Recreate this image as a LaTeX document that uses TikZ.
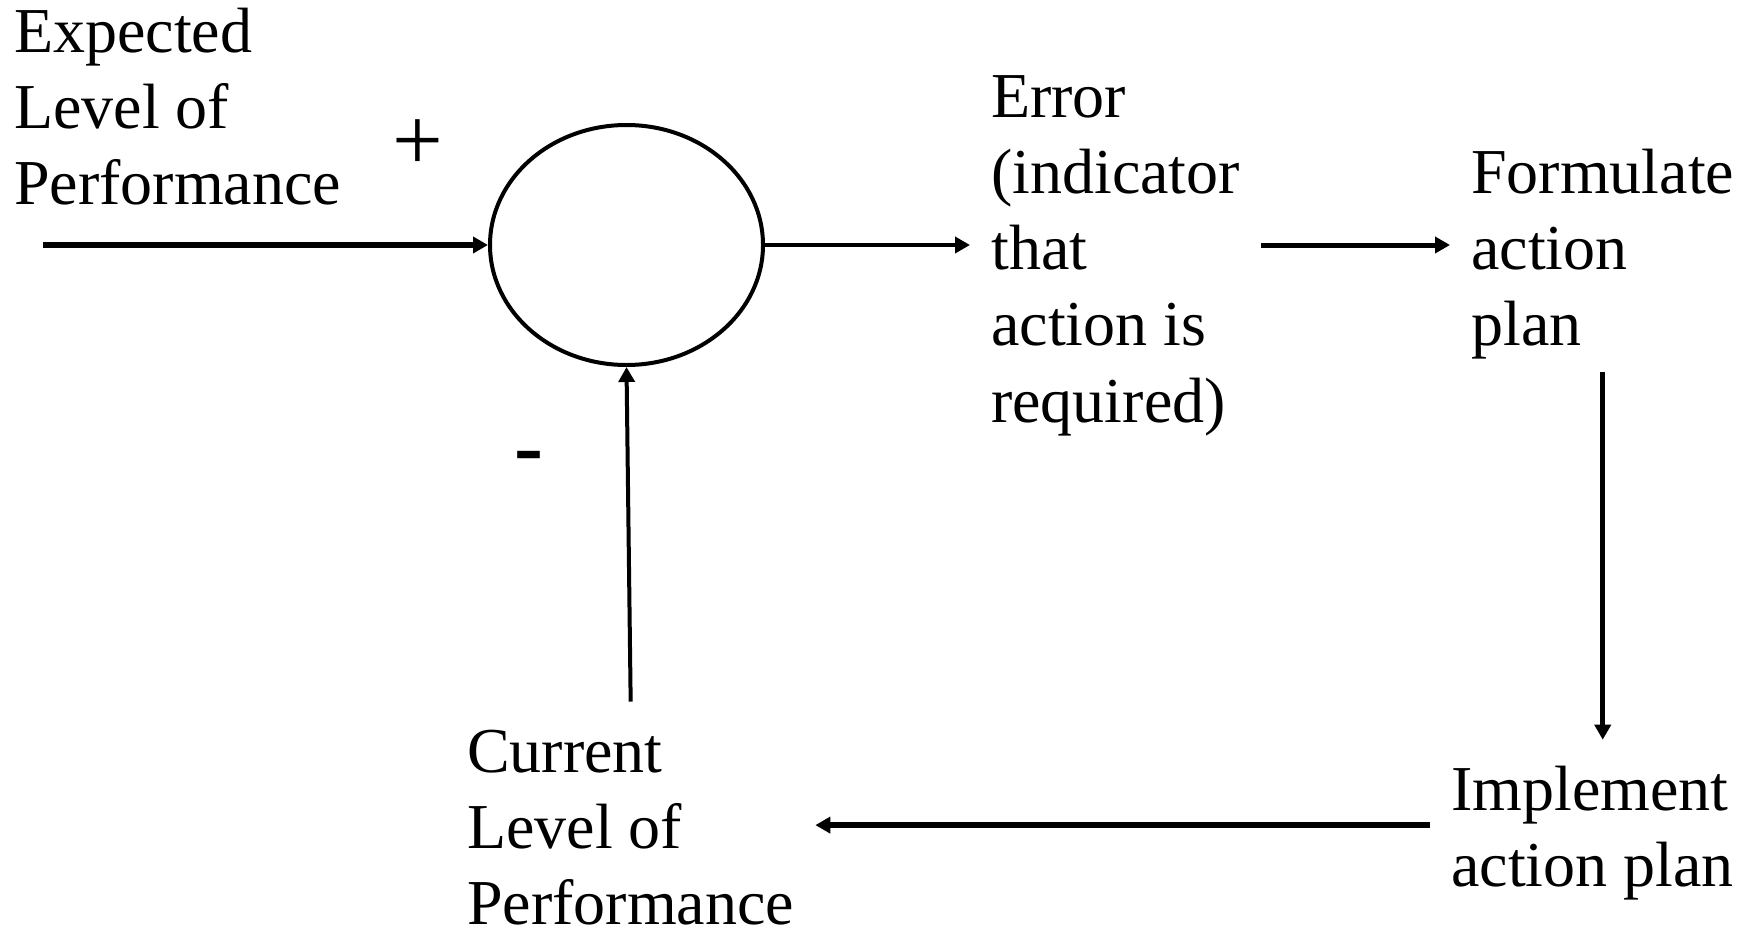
\documentclass[tikz,border=0pt]{standalone}
\usepackage{fontspec}
\setmainfont{Liberation Serif}
\usetikzlibrary{arrows.meta,shapes.geometric}
\begin{document}
\begin{tikzpicture}[x=1pt,y=-1pt,
  lbl/.style={font=\fontsize{64}{76.2}\selectfont, align=left, anchor=north west, inner xsep=21pt, inner ysep=17pt},
  arr/.style={-{Triangle[length=15pt,width=16pt]}, line width=5pt}]
\useasboundingbox (0,0) rectangle (1750,931);
% text nodes
\node[lbl] (exp) at (-7,-18.3) {\strut Expected\\\strut Level of\\\strut Performance\strut};
\node[lbl] (err) at (970,46.7) {\strut Error\\\strut (indicator\\\strut that\\\strut action is\\\strut required)\strut};
\node[lbl] (form) at (1450,122.7) {\strut Formulate\\\strut action\\\strut plan\strut};
\node[lbl] (impl) at (1430,739.7) {\strut Implement\\\strut action plan\strut};
\node[lbl] (cur) at (446,701.7) {\strut Current\\\strut Level of\\\strut Performance\strut};
% summing junction
\node[ellipse, draw, line width=4pt, minimum width=273pt, minimum height=240pt, inner sep=0pt] (sum) at (626.5,245) {};
\node[font=\fontsize{90}{90}\selectfont, inner sep=0pt] (plus) at (418,145) {+};
\node[font=\bfseries\fontsize{87}{87}\selectfont, inner sep=0pt] (minus) at (529,463) {-};
% connectors
\coordinate (inp) at (43,245);
\draw[arr, line width=5.5pt] (inp) -- (sum.west);
\draw[arr, line width=4.5pt] (sum.east) -- (sum.east -| err.west);
\draw[arr] (sum.east -| err.east) -- (sum.east -| form.west);
\draw[arr] ([yshift=14pt]form.south) -- (form.south |- impl.north);
\draw[arr, line width=6pt] ([yshift=8pt]impl.west) -- ([yshift=8pt]impl.west -| cur.east);
\draw[arr, line width=4pt] (cur.north) -- (sum.south);
\end{tikzpicture}
\end{document}
